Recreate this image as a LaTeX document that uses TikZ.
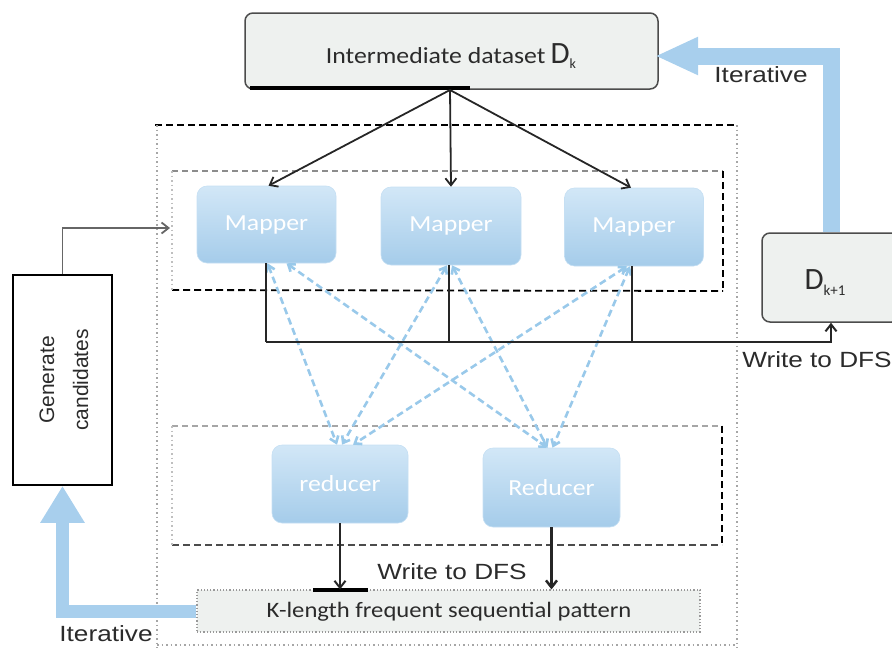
\documentclass[tikz,border=0pt]{standalone}
\usepackage{fontspec}
\usepackage{graphicx}
\setmainfont{Liberation Sans}
\newfontfamily\calfont{Carlito}
\usetikzlibrary{arrows.meta}
\definecolor{boxfill}{HTML}{EEF1EF}
\definecolor{mapTop}{HTML}{D2E7F7}
\definecolor{mapBot}{HTML}{A5CCEA}
\definecolor{blueArrow}{HTML}{A8CFED}
\definecolor{dashBlue}{HTML}{99C9EA}
\definecolor{txt}{HTML}{2B2B2B}
\newcommand{\hsc}[1]{\scalebox{1.12}[1]{#1}}
\newcommand{\hsa}[1]{\scalebox{1.19}[1]{#1}}
\begin{document}
\begin{tikzpicture}[x=1pt,y=-1pt,
  graybox/.style={draw=black!70, line width=1.5pt, fill=boxfill, rounded corners=8pt, inner sep=0pt},
  bluebox/.style={rounded corners=10pt, top color=mapTop, bottom color=mapBot, draw=mapTop!70!mapBot, line width=0.6pt, text=white, font=\calfont\fontsize{23}{26}\selectfont, inner sep=0pt},
  caltext/.style={text=txt, font=\calfont\fontsize{23}{26}\selectfont, inner sep=0pt},
  arialtext/.style={text=txt, font=\fontsize{22}{25}\selectfont, inner sep=0pt},
  blk/.style={draw=black!85, line width=1.8pt, -{Straight Barb[length=7pt,width=11pt]}},
  bluedash/.style={draw=dashBlue, line width=2.6pt, dash pattern=on 7pt off 4pt, {Straight Barb[length=6pt,width=9pt]}-{Straight Barb[length=6pt,width=9pt]}},
  bigarrow/.style={draw=blueArrow, line join=miter},
  outerdot/.style={draw=black!35, line width=1.5pt, dash pattern=on 1.5pt off 3pt},
  blackdash/.style={draw=black, line width=2.2pt, dash pattern=on 7pt off 4pt},
  graydash/.style={draw=black!45, line width=1.8pt, dash pattern=on 6pt off 4pt}
]
\useasboundingbox (0,0) rectangle (892,648);

% outer box
\draw[blackdash, line width=1.8pt] (155,125) -- (737,125);
\draw[outerdot] (157,125) -- (157,648);
\draw[outerdot] (737,125) -- (737,648);
\draw[outerdot] (157,645) -- (737,645);

% inner mapper box
\draw[graydash] (172,171) -- (723,171);
\draw[blackdash] (723,171) -- (723,291);
\draw[blackdash, line width=1.8pt] (172,290) -- (723,291);
\draw[outerdot, draw=black!25] (172,171) -- (172,290);

% inner reducer box
\draw[graydash, draw=black!35] (172,426) -- (722,426);
\draw[blackdash] (722,426) -- (722,545);
\draw[blackdash, draw=black!70, line width=1.8pt] (172,545) -- (722,545);
\draw[outerdot, draw=black!25] (172,426) -- (172,545);

% nodes
\node[graybox, minimum width=413pt, minimum height=76pt] (top) at (451.5,51) {};
\node[caltext] (toptxt) at (451,56) {\hsc{Intermediate dataset} {\fontsize{31}{32}\selectfont D}\raisebox{-5pt}{\fontsize{14}{15}\selectfont k}};
\node[bluebox, minimum width=139pt, minimum height=77pt] (m1) at (266.5,224.5) {\hsc{Mapper}};
\node[bluebox, minimum width=140pt, minimum height=78pt] (m2) at (451,226) {\hsc{Mapper}};
\node[bluebox, minimum width=139pt, minimum height=78pt] (m3) at (634,227) {\hsc{Mapper}};
\node[bluebox, minimum width=136pt, minimum height=78pt] (r1) at (340,484) {\hsc{reducer}};
\node[bluebox, minimum width=137pt, minimum height=79pt] (r2) at (551.5,487.5) {\hsc{Reducer}};
\node[graybox, draw=black!40, line width=1.2pt, dotted, rounded corners=0pt, minimum width=503pt, minimum height=42pt] (kbox) at (448.5,611) {};
\node[caltext, font=\calfont\fontsize{22}{25}\selectfont] (ktxt) at (449,612) {\hsc{K-length frequent sequential pattern}};
\node[graybox, minimum width=138pt, minimum height=89pt] (dk1) at (831,277.5) {};
\node[caltext] (dk1txt) at (825,283) {{\fontsize{31}{32}\selectfont D}\raisebox{-6pt}{\fontsize{15}{16}\selectfont k+1}};
\node[draw=black, line width=1.8pt, fill=white, minimum width=99pt, minimum height=210pt, inner sep=0pt] (gen) at (62.5,380) {};
\node[rotate=90, align=center, text=txt, font=\fontsize{21}{34}\selectfont] (gentxt) at (64,380) {Generate\\candidates};

% thick bars
\draw[line width=3.5pt] (250,88) -- (470,88);
\draw[line width=3.5pt] (313,590) -- (368,590);

% blue dashed crossing lines
\draw[bluedash] ([xshift=1pt]m1.south) -- ([xshift=-3pt]r1.north);
\draw[bluedash] ([xshift=20pt]m1.south) -- ([xshift=-4pt]r2.north);
\draw[bluedash] ([xshift=-4pt]m2.south) -- ([xshift=2pt]r1.north);
\draw[bluedash] ([xshift=1pt]m2.south) -- ([xshift=-4pt]r2.north);
\draw[bluedash] ([xshift=-7pt]m3.south) -- ([xshift=13pt]r1.north);
\draw[bluedash] ([xshift=-4pt]m3.south) -- ([xshift=1pt]r2.north);

% arrows from top box to mappers
\coordinate (src) at (450,90);
\draw[blk] (src) -- ([xshift=2pt]m1.north);
\draw[blk] (src) -- (m2.north);
\draw[blk] (src) -- ([xshift=-3pt]m3.north);

% mapper outputs to D_{k+1}
\coordinate (bus) at (831,342);
\draw[draw=black!85, line width=2pt] ([xshift=-1pt]m1.south) -- ([xshift=-1pt]m1.south |- bus);
\draw[draw=black!85, line width=2pt] ([xshift=-2pt]m2.south) -- ([xshift=-2pt]m2.south |- bus);
\draw[draw=black!85, line width=2pt] ([xshift=-2pt]m3.south) -- ([xshift=-2pt]m3.south |- bus);
\draw[blk, line width=2pt] ([xshift=-1pt]m1.south |- bus) -- (bus) -- (dk1.south);
\node[arialtext] (wdfs1) at (817,360) {\hsa{Write to DFS}};

% reducers to K-length
\draw[blk, line width=2pt] (r1.south) -- (r1.south |- kbox.north);
\draw[blk, line width=2.5pt] (r2.south) -- (r2.south |- kbox.north);
\node[arialtext] (wdfs2) at (452,572) {\hsa{Write to DFS}};

% generate candidates to mapper box
\coordinate (mapW) at (170,228);
\draw[blk, draw=black!60, line width=1.8pt] (gen.north) |- (mapW);

% big blue arrows
\draw[bigarrow, line width=17pt, -{Triangle[width=35pt,length=43pt]}] (dk1.north) -- (dk1.north |- 0,56) -- (655,56);
\node[arialtext] (it1) at (761,75) {\hsa{Iterative}};
\draw[bigarrow, line width=13pt, -{Triangle[width=42pt,length=37pt]}] (kbox.west) -| (gen.south);
\node[arialtext] (it2) at (106,634) {\hsa{Iterative}};
\end{tikzpicture}
\end{document}
